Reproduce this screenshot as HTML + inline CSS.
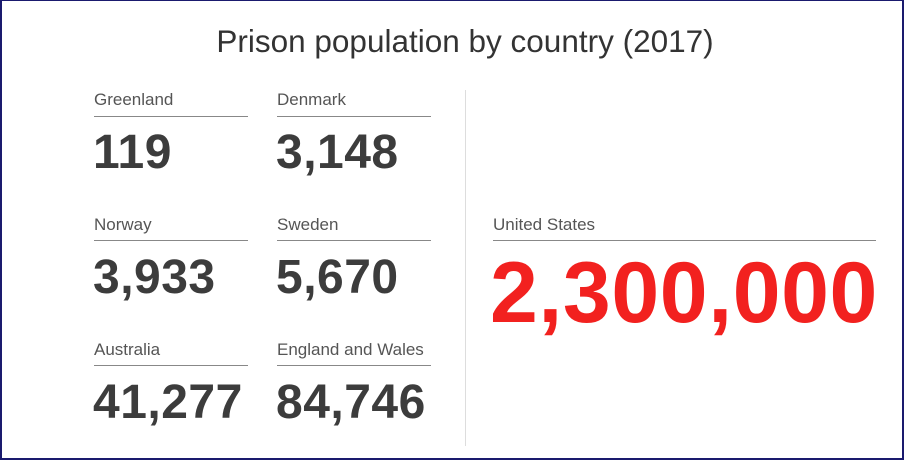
<!DOCTYPE html>
<html><head><style>
*{margin:0;padding:0;box-sizing:border-box}
body{width:904px;height:460px;background:#fff;position:relative;overflow:hidden;font-family:"Liberation Sans",sans-serif}
.frame{position:absolute;left:0;top:0;width:904px;height:460px;border:2px solid #1a1a6e;border-top-width:1px}
.t{position:absolute;white-space:nowrap}
.title{left:0;width:930px;text-align:center;top:23px;font-size:31.5px;color:#333}
.lab{font-size:17px;color:#555}
.line{position:absolute;height:1px;background:#888}
.num{font-size:48px;font-weight:bold;color:#3c3c3c;letter-spacing:0.5px}
.us{font-size:86px;font-weight:bold;color:#f2211f;letter-spacing:0.6px}
</style></head><body>
<div class="frame"></div>
<div class="t title">Prison population by country (2017)</div>

<div class="t lab" style="left:94px;top:90px">Greenland</div>
<div class="line" style="left:94px;top:116px;width:154px"></div>
<div class="t num" style="left:93px;top:125px">119</div>
<div class="t lab" style="left:277px;top:90px">Denmark</div>
<div class="line" style="left:277px;top:116px;width:154px"></div>
<div class="t num" style="left:276px;top:125px">3,148</div>

<div class="t lab" style="left:94px;top:215px">Norway</div>
<div class="line" style="left:94px;top:240px;width:154px"></div>
<div class="t num" style="left:93px;top:250px">3,933</div>
<div class="t lab" style="left:277px;top:215px">Sweden</div>
<div class="line" style="left:277px;top:240px;width:154px"></div>
<div class="t num" style="left:276px;top:250px">5,670</div>

<div class="t lab" style="left:94px;top:340px">Australia</div>
<div class="line" style="left:94px;top:365px;width:154px"></div>
<div class="t num" style="left:93px;top:375px">41,277</div>
<div class="t lab" style="left:277px;top:340px">England and Wales</div>
<div class="line" style="left:277px;top:365px;width:154px"></div>
<div class="t num" style="left:276px;top:375px">84,746</div>

<div class="line" style="left:465px;top:90px;width:1px;height:356px;background:#ddd"></div>

<div class="t lab" style="left:493px;top:215px">United States</div>
<div class="line" style="left:493px;top:240px;width:383px"></div>
<div class="t us" style="left:490px;top:244px">2,300,000</div>
</body></html>
